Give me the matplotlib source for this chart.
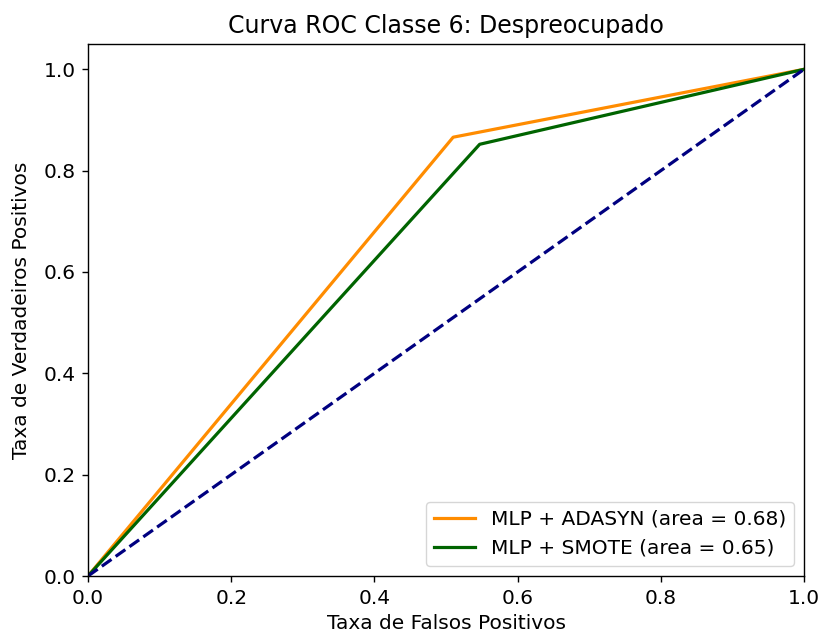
import numpy as np
import matplotlib
matplotlib.use("Agg")
import matplotlib.pyplot as plt

# Dados
fpr_adasyn = [0.0, 0.51, 1.0]
tpr_adasyn = [0.0, 0.866, 1.0]
fpr_smote = [0.0, 0.547, 1.0]
tpr_smote = [0.0, 0.852, 1.0]
auc_adasyn = 0.68
auc_smote = 0.65

fig = plt.figure(figsize=(8.21, 6.41), dpi=100)
ax = fig.add_axes([0.1072, 0.1014, 0.8721, 0.83])

ax.plot(fpr_adasyn, tpr_adasyn, color='darkorange', lw=2.3,
        label=f"MLP + ADASYN (area = {auc_adasyn:.2f})")
ax.plot(fpr_smote, tpr_smote, color='darkgreen', lw=2.3,
        label=f"MLP + SMOTE (area = {auc_smote:.2f})")
ax.plot([0, 1], [0, 1], color='navy', lw=2.3, linestyle='--')

ax.set_xlim(0.0, 1.0)
ax.set_ylim(0.0, 1.05)
ax.tick_params(labelsize=14.5, length=4.5, width=1.0, pad=4.5)
for s in ax.spines.values():
    s.set_linewidth(1.0)
ax.set_xlabel("Taxa de Falsos Positivos", fontsize=14.5, labelpad=5)
ax.set_ylabel("Taxa de Verdadeiros Positivos", fontsize=14.5, labelpad=9)
ax.set_title("Curva ROC Classe 6: Despreocupado", fontsize=17, pad=8)
ax.legend(loc="lower right", fontsize=14.5)

fig.savefig("out.png", dpi=100)
